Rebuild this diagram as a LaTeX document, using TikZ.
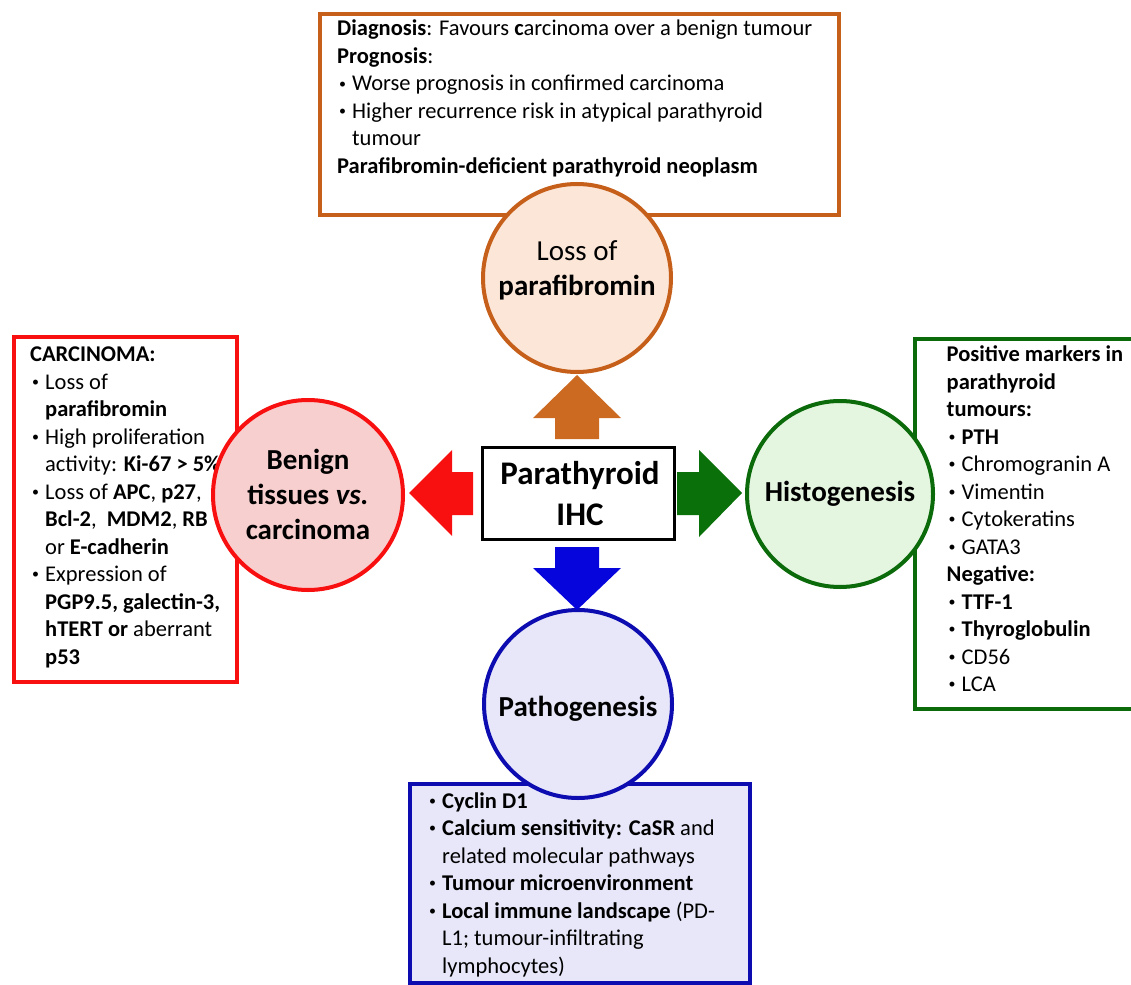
\documentclass[tikz,border=0pt]{standalone}
\usepackage{fontspec}
\usepackage{graphicx}
\setmainfont{Carlito}
\definecolor{orgline}{HTML}{C55F1A}
\definecolor{orgarrow}{HTML}{CD6A22}
\definecolor{orgfill}{HTML}{FCE6D7}
\definecolor{redline}{HTML}{F80F0F}
\definecolor{redfill}{HTML}{F8CFCF}
\definecolor{grnline}{HTML}{0B6B0B}
\definecolor{grnarrow}{HTML}{0A700A}
\definecolor{grnfill}{HTML}{E5F6E0}
\definecolor{bluline}{HTML}{0C0CB0}
\definecolor{bluarrow}{HTML}{0505DC}
\definecolor{blufill}{HTML}{E7E7F9}
\newlength\bind
\setlength\bind{15pt}
\newcommand\smallbul{\makebox[\bind][l]{\hspace{2pt}\raisebox{0.13em}{\scalebox{0.62}{\textbullet}}}}
\newcommand\bl[1]{\par\hangindent=\bind\hangafter=1\noindent\smallbul#1}
\newcommand\boxtext[3]{\parbox[t]{#1}{\fontsize{#2}{27.5}\selectfont\raggedright\parindent0pt\parskip0pt #3}}
\tikzset{
  infobox/.style={draw, line width=4pt, anchor=north west, inner sep=0pt},
  bigcirc/.style={circle, draw, line width=4pt, minimum size=#1, inner sep=0pt},
  txt/.style={anchor=base west, inner sep=0pt},
  ctxt/.style={align=center, inner sep=0pt, font=\fontsize{29}{35}\selectfont},
}
\begin{document}
\begin{tikzpicture}[x=1pt,y=-1pt]
\useasboundingbox (0,0) rectangle (1131,984);
% boxes
\node[infobox, draw=orgline, fill=white, minimum width=519pt, minimum height=201pt] (topbox) at (318,12) {};
\node[infobox, draw=redline, fill=white, minimum width=223pt, minimum height=345pt] (leftbox) at (12,335) {};
\node[infobox, draw=grnline, fill=white, minimum width=240pt, minimum height=370pt] (rightbox) at (913,337) {};
\node[infobox, draw=bluline, fill=blufill, minimum width=340pt, minimum height=199pt] (botbox) at (408,782) {};
% box texts
\node[txt] (toptext) at (337,36) {\boxtext{500pt}{22.5}{%
\textbf{Diagnosis}: Favours \textbf{c}arcinoma over a benign tumour\par
\textbf{Prognosis}:
\bl{Worse prognosis in confirmed carcinoma}
\bl{Higher recurrence risk in atypical parathyroid\newline tumour}
\par\textbf{Parafibromin-deficient parathyroid neoplasm}}};
\node[txt] (lefttext) at (30,361.7) {\boxtext{300pt}{22.5}{%
\textbf{CARCINOMA:}
\bl{Loss of\newline \textbf{parafibromin}}
\bl{High proliferation\newline activity: \textbf{Ki-67 > 5\%}}
\bl{Loss of \textbf{APC}, \textbf{p27},\newline \textbf{Bcl-2}, \ \textbf{MDM2}, \textbf{RB}\newline or \textbf{E-cadherin}}
\bl{Expression of\newline \textbf{PGP9.5, galectin-3,}\newline \textbf{hTERT or} aberrant\newline \textbf{p53}}}};
\node[txt] (righttext) at (946.5,361.7) {\boxtext{300pt}{22.5}{%
\textbf{Positive markers in\newline parathyroid\newline tumours:}
\bl{\textbf{PTH}}
\bl{Chromogranin A}
\bl{Vimentin}
\bl{Cytokeratins}
\bl{GATA3}
\par\textbf{Negative:}
\bl{\textbf{TTF-1}}
\bl{\textbf{Thyroglobulin}}
\bl{CD56}
\bl{LCA}}};
\node[txt] (bottext) at (427,808) {\boxtext{330pt}{22.5}{%
\bl{\textbf{Cyclin D1}}
\bl{\textbf{Calcium sensitivity: CaSR} and\newline related molecular pathways}
\bl{\textbf{Tumour microenvironment}}
\bl{\textbf{Local immune landscape} (PD-\newline L1; tumour-infiltrating\newline lymphocytes)}}};
% circles
\node[bigcirc=188pt, draw=orgline, fill=orgfill] (topc) at (577,278) {};
\node[bigcirc=190pt, draw=redline, fill=redfill] (leftc) at (308,495) {};
\node[bigcirc=186pt, draw=grnline, fill=grnfill] (rightc) at (840,494) {};
\node[bigcirc=188pt, draw=bluline, fill=blufill] (botc) at (578,704) {};
\node[ctxt] (topct) at (577,270) {Loss of\\ \textbf{parafibromin}};
\node[ctxt] (leftct) at (308,494) {\textbf{Benign}\\ \textbf{tissues \textit{vs.}}\\ \textbf{carcinoma}};
\node[ctxt] (rightct) at (840,494) {\textbf{Histogenesis}};
\node[ctxt] (botct) at (578,709) {\textbf{Pathogenesis}};
% centre
\node[draw, line width=3pt, fill=white, minimum width=192pt, minimum height=92pt, inner sep=0pt] (ihc) at (578,493) {};
\node[align=center, inner sep=0pt, font=\fontsize{33}{41}\selectfont] (ihct) at (580,494) {\textbf{Parathyroid}\\ \textbf{IHC}};
% block arrows
\fill[orgarrow] (555,439) -- (555,418) -- (533,418) -- (577,375) -- (621,418) -- (599,418) -- (599,439) -- cycle;
\fill[bluarrow] (555,547) -- (555,568) -- (533,568) -- (577,610) -- (621,568) -- (599,568) -- (599,547) -- cycle;
\fill[redline] (473,472) -- (452,472) -- (452,450) -- (409,493) -- (452,536) -- (452,515) -- (473,515) -- cycle;
\fill[grnarrow] (677,472) -- (699,472) -- (699,450) -- (742,493) -- (699,537) -- (699,515) -- (677,515) -- cycle;
\end{tikzpicture}
\end{document}
